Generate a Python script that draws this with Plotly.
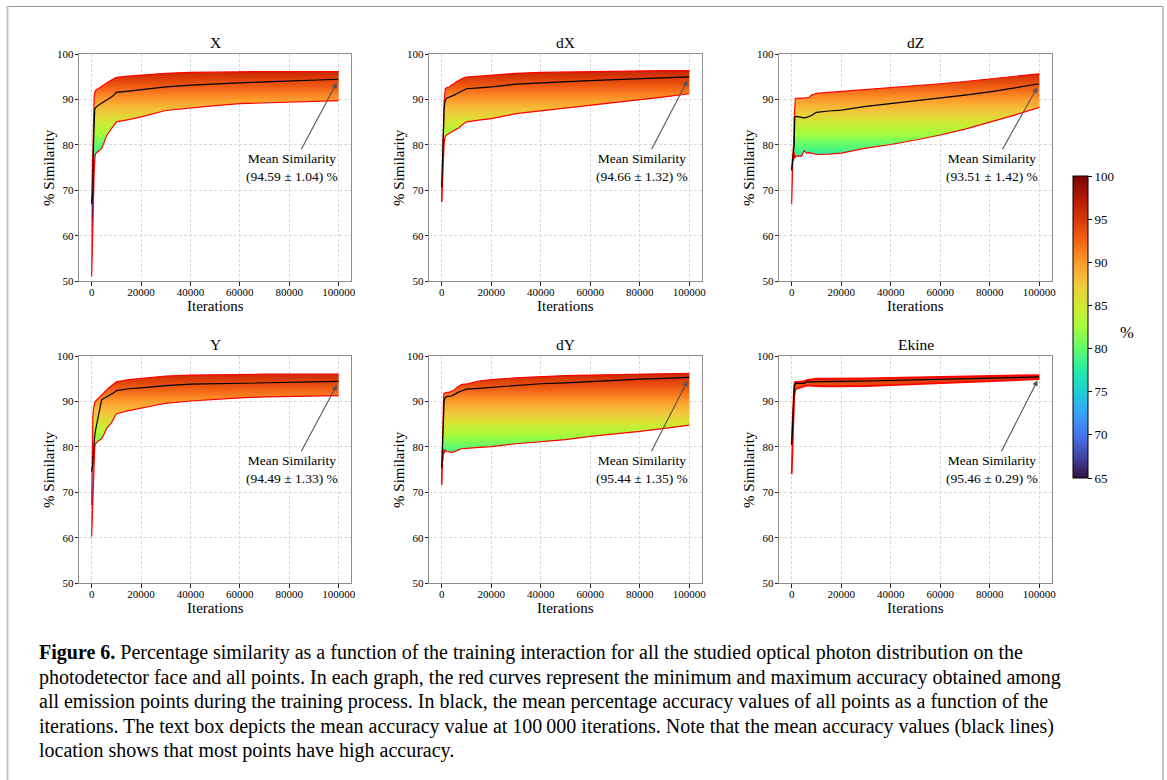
import plotly.graph_objects as go
import plotly.express as px

# ---------------- data ----------------
ITERATIONS = [0, 250, 500, 750, 1000, 1250, 1500, 2000, 3000, 4000, 5000, 6000, 7000, 8000, 9000,
              10000, 15000, 20000, 30000, 40000, 50000, 60000, 70000, 80000, 90000, 100000]

PANEL_NAMES = ["X", "dX", "dZ", "Y", "dY", "Ekine"]
MEAN_LABELS = ["(94.59 ± 1.04) %", "(94.66 ± 1.32) %", "(93.51 ± 1.42) %",
               "(94.49 ± 1.33) %", "(95.44 ± 1.35) %", "(95.46 ± 0.29) %"]

X_MAX = [67, 75, 84, 88, 90.5, 91.5, 92.0, 92.2, 92.6, 93.0, 93.4, 93.7, 94.0, 94.3, 94.6, 94.9, 95.2, 95.4, 95.8, 96.0, 96.1, 96.15, 96.2, 96.2, 96.2, 96.2]
X_MEAN = [67, 68, 70, 80, 87.5, 87.9, 88.2, 88.5, 88.9, 89.2, 89.6, 89.9, 90.3, 90.6, 91.0, 91.6, 91.9, 92.2, 92.8, 93.2, 93.5, 93.7, 93.9, 94.1, 94.3, 94.5]
X_MIN = [51, 58, 66, 71, 74, 76.5, 78, 78.3, 78.8, 79.2, 80.5, 82.0, 82.8, 83.5, 84.3, 85.1, 85.6, 86.2, 87.6, 88.2, 88.7, 89.1, 89.3, 89.5, 89.7, 89.8]

DX_MAX = [67.4, 75, 82, 87, 89.9, 91.2, 92.5, 92.6, 92.8, 93.2, 93.5, 94.0, 94.3, 94.6, 94.8, 95.0, 95.2, 95.4, 95.8, 96.0, 96.1, 96.2, 96.3, 96.3, 96.4, 96.4]
DX_MEAN = [70.7, 76, 82, 86, 88.1, 89.3, 89.9, 90.3, 90.5, 90.7, 91.0, 91.3, 91.6, 91.8, 92.1, 92.4, 92.6, 92.8, 93.4, 93.7, 94.0, 94.2, 94.4, 94.6, 94.8, 95.0]
DX_MIN = [67.4, 72, 76, 79, 80.5, 81.3, 81.9, 82.2, 82.6, 82.8, 83.2, 83.5, 83.8, 84.3, 84.7, 85.1, 85.5, 85.8, 86.9, 87.5, 88.1, 88.7, 89.3, 89.9, 90.6, 91.3]

DZ_MAX = [74.4, 77, 79, 80, 86, 90.2, 90.25, 90.3, 90.3, 90.3, 90.3, 90.4, 90.5, 91.0, 91.2, 91.4, 91.6, 91.8, 92.3, 92.6, 93.0, 93.5, 94.0, 94.6, 95.1, 95.7]
DZ_MEAN = [74.4, 76, 77.5, 78, 80, 86.2, 86.3, 86.3, 86.2, 86.1, 86.0, 86.1, 86.3, 86.5, 86.9, 87.2, 87.5, 87.7, 88.5, 89.1, 89.7, 90.3, 91.0, 91.7, 92.6, 93.5]
DZ_MIN = [67, 76, 77.7, 76.5, 78.4, 77.0, 77.6, 77.5, 77.6, 77.5, 78.7, 78.2, 78.3, 78.2, 78.0, 77.9, 78.0, 78.2, 79.3, 80.1, 81.1, 82.2, 83.5, 85.0, 86.6, 88.3]

Y_MAX = [67.2, 80, 86.7, 88.5, 89.4, 89.8, 90.0, 90.3, 90.8, 91.4, 92.0, 92.5, 93.0, 93.5, 94.0, 94.3, 94.8, 95.1, 95.6, 95.8, 95.9, 96.0, 96.0, 96.0, 96.0, 96.0]
Y_MEAN = [74.6, 75.5, 76.5, 79, 81.9, 82.5, 83.5, 85.0, 88.0, 90.3, 90.7, 91.0, 91.2, 91.5, 91.9, 92.4, 92.8, 93.0, 93.5, 93.8, 93.9, 94.0, 94.1, 94.2, 94.3, 94.4]
Y_MIN = [60.3, 64, 67, 73, 78, 80, 80.6, 81.0, 81.4, 81.8, 82.8, 84.0, 84.7, 85.3, 86.3, 87.3, 88.0, 88.5, 89.6, 90.1, 90.5, 90.8, 91.0, 91.1, 91.2, 91.3]

DY_MAX = [71.6, 80, 87, 91, 91.8, 91.9, 92.0, 92.0, 92.0, 92.2, 92.5, 93.0, 93.4, 93.7, 93.8, 93.8, 94.5, 94.8, 95.2, 95.5, 95.7, 95.8, 95.9, 96.0, 96.1, 96.2]
DY_MEAN = [75.3, 80, 85, 88, 90.1, 90.6, 90.9, 91.05, 91.1, 91.2, 91.5, 91.9, 92.1, 92.3, 92.5, 92.7, 92.9, 93.1, 93.6, 93.9, 94.1, 94.4, 94.6, 94.9, 95.1, 95.3]
DY_MIN = [71.6, 77.5, 76.8, 79.6, 78.5, 79.1, 79.3, 79.0, 78.9, 78.8, 78.9, 79.2, 79.4, 79.6, 79.7, 79.7, 79.9, 80.05, 80.7, 81.1, 81.6, 82.3, 82.8, 83.4, 84.1, 84.8]

EK_MAX = [80.5, 85, 88, 91, 93.5, 94.1, 94.3, 94.3, 94.3, 94.3, 94.4, 94.7, 94.8, 94.9, 94.9, 95.0, 95.0, 95.0, 95.1, 95.2, 95.3, 95.4, 95.5, 95.6, 95.7, 95.8]
EK_MEAN = [80.4, 84, 87, 90, 92.5, 93.5, 94.0, 94.0, 94.0, 94.0, 94.0, 94.3, 94.3, 94.3, 94.3, 94.3, 94.35, 94.4, 94.5, 94.6, 94.75, 94.9, 95.0, 95.1, 95.25, 95.4]
EK_MIN = [74, 80, 86, 89, 91, 92, 92.6, 92.8, 93.0, 93.1, 93.3, 93.5, 93.5, 93.5, 93.4, 93.4, 93.3, 93.3, 93.4, 93.6, 93.8, 94.0, 94.2, 94.5, 94.7, 94.9]

X_TICKS = [0, 20000, 40000, 60000, 80000, 100000]
Y_TICKS = [50, 60, 70, 80, 90, 100]
CBAR_TICKS = [65, 70, 75, 80, 85, 90, 95, 100]
CBAR_MIN, CBAR_MAX = 65, 100

CAPTION_LINES = [
    "<b>Figure 6.</b> Percentage similarity as a function of the training interaction for all the studied optical photon distribution on the",
    "photodetector face and all points. In each graph, the red curves represent the minimum and maximum accuracy obtained among",
    "all emission points during the training process. In black, the mean percentage accuracy values of all points as a function of the",
    "iterations. The text box depicts the mean accuracy value at 100\u2009000 iterations. Note that the mean accuracy values (black lines)",
    "location shows that most points have high accuracy.",
]

PANELS = [
    (X_MIN, X_MEAN, X_MAX), (DX_MIN, DX_MEAN, DX_MAX), (DZ_MIN, DZ_MEAN, DZ_MAX),
    (Y_MIN, Y_MEAN, Y_MAX), (DY_MIN, DY_MEAN, DY_MAX), (EK_MIN, EK_MEAN, EK_MAX),
]

# ---------------- layout geometry (pixels) ----------------
W, H = 1167, 780
FONT = "Liberation Serif"
COL_PX = [(79.3, 351.0), (429.3, 701.7), (779.3, 1051.7)]
ROW_PX = [(54.3, 281.0), (356.0, 583.3)]
TURBO = px.colors.sequential.Turbo


def px_x(p):
    return p / W


def px_y(p):
    return 1 - p / H


fig = go.Figure()
annotations = []
layout_axes = {}

for i, (name, label, (ymin, ymean, ymax)) in enumerate(zip(PANEL_NAMES, MEAN_LABELS, PANELS)):
    n = i + 1
    r, c = divmod(i, 3)
    xa = "x" if n == 1 else f"x{n}"
    ya = "y" if n == 1 else f"y{n}"
    xl, xr = COL_PX[c]
    yt, yb = ROW_PX[r]

    ek = name == "Ekine"
    lw = 1.8 if ek else 1.2

    fig.add_trace(go.Scatter(x=ITERATIONS, y=ymin, mode="lines", line=dict(color="red", width=lw),
                             xaxis=xa, yaxis=ya, showlegend=False, hoverinfo="skip"))
    fig.add_trace(go.Scatter(x=ITERATIONS, y=ymax, mode="lines", line=dict(color="red", width=lw),
                             fill="tonexty",
                             fillgradient=dict(type="vertical", colorscale=TURBO,
                                               start=CBAR_MIN, stop=CBAR_MAX),
                             xaxis=xa, yaxis=ya, showlegend=False, hoverinfo="skip"))
    fig.add_trace(go.Scatter(x=ITERATIONS, y=ymean, mode="lines", line=dict(color="black", width=1.2),
                             xaxis=xa, yaxis=ya, showlegend=False))

    axis_common = dict(showline=True, linecolor="#8c8c8c", linewidth=1, mirror=True,
                       ticks="outside", ticklen=3.5, tickcolor="#222", tickwidth=1,
                       showgrid=True, gridcolor="#d9d9d9", griddash="3px,2px", gridwidth=0.8,
                       zeroline=False, tickfont=dict(family=FONT, size=11, color="black"))
    layout_axes["xaxis" if n == 1 else f"xaxis{n}"] = dict(
        axis_common, domain=[px_x(xl), px_x(xr)], anchor=ya, range=[-5000, 105000],
        tickvals=X_TICKS, tickformat="d", ticklabelstandoff=-3)
    layout_axes["yaxis" if n == 1 else f"yaxis{n}"] = dict(
        axis_common, domain=[px_y(yb), px_y(yt)], anchor=xa, range=[50, 100],
        tickvals=Y_TICKS, ticklabelstandoff=-1)

    # subplot title
    annotations.append(dict(text=name, xref="paper", yref="paper", x=px_x((xl + xr) / 2),
                            y=px_y(yt), yanchor="bottom", xanchor="center", yshift=1,
                            showarrow=False, font=dict(family=FONT, size=15.5, color="black")))
    # axis titles
    annotations.append(dict(text="Iterations", xref="paper", yref="paper", x=px_x((xl + xr) / 2),
                            y=px_y(yb + 25), yanchor="middle", xanchor="center",
                            showarrow=False, font=dict(family=FONT, size=15, color="black")))
    annotations.append(dict(text="% Similarity", xref="paper", yref="paper", x=px_x(xl - 31),
                            y=px_y((yt + yb) / 2), yanchor="middle", xanchor="center", textangle=-90,
                            showarrow=False, font=dict(family=FONT, size=15, color="black")))
    # mean-similarity arrow annotation
    annotations.append(dict(text="Mean Similarity<br>" + label, xref=xa, yref=ya,
                            x=ITERATIONS[-1], y=ymean[-1], axref=xa, ayref=ya,
                            ax=81000, ay=75.1, showarrow=True, arrowhead=2, arrowsize=1,
                            arrowwidth=1.1, arrowcolor="#555", standoff=4,
                            font=dict(family=FONT, size=13.5, color="black")))

# colorbar via a dummy trace
fig.add_trace(go.Scatter(x=[None], y=[None], mode="markers", showlegend=False, hoverinfo="skip",
                         marker=dict(color=[CBAR_MIN], cmin=CBAR_MIN, cmax=CBAR_MAX, colorscale=TURBO,
                                     showscale=True,
                                     colorbar=dict(x=px_x(1072.7), xanchor="left", y=px_y(327),
                                                   yanchor="middle", len=302 / H, lenmode="fraction",
                                                   thickness=15, xpad=0, ypad=0,
                                                   outlinecolor="black", outlinewidth=1,
                                                   ticks="outside", ticklen=4, tickcolor="black",
                                                   tickvals=CBAR_TICKS,
                                                   tickfont=dict(family=FONT, size=13, color="black"))),
                         xaxis="x", yaxis="y"))

annotations.append(dict(text="%", xref="paper", yref="paper", x=px_x(1127), y=px_y(332),
                        xanchor="center", yanchor="middle", showarrow=False,
                        font=dict(family=FONT, size=16.5, color="black")))

# caption
CAP_Y = [652, 677, 701, 726, 750]
for line, yy in zip(CAPTION_LINES, CAP_Y):
    annotations.append(dict(text=line, xref="paper", yref="paper", x=px_x(37), y=px_y(yy),
                            xanchor="left", yanchor="middle", showarrow=False, align="left",
                            font=dict(family=FONT, size=20, color="black")))

shapes = [
    dict(type="line", xref="paper", yref="paper", x0=px_x(7), x1=px_x(1163), y0=px_y(6.5), y1=px_y(6.5),
         line=dict(color="#9a9a9a", width=1.2)),
    dict(type="line", xref="paper", yref="paper", x0=px_x(7.5), x1=px_x(7.5), y0=px_y(6), y1=-0.05,
         line=dict(color="#c4c4c4", width=2)),
    dict(type="line", xref="paper", yref="paper", x0=px_x(1163), x1=px_x(1163), y0=px_y(6), y1=-0.05,
         line=dict(color="#c4c4c4", width=2)),
]

fig.update_layout(width=W, height=H, margin=dict(l=0, r=0, t=0, b=0, autoexpand=False),
                  paper_bgcolor="white", plot_bgcolor="white",
                  font=dict(family=FONT, color="black"),
                  annotations=annotations, shapes=shapes, **layout_axes)

fig.write_html("out.html", config={"displayModeBar": False},
               post_script="document.body.style.margin='0';document.body.style.overflow='hidden';")
